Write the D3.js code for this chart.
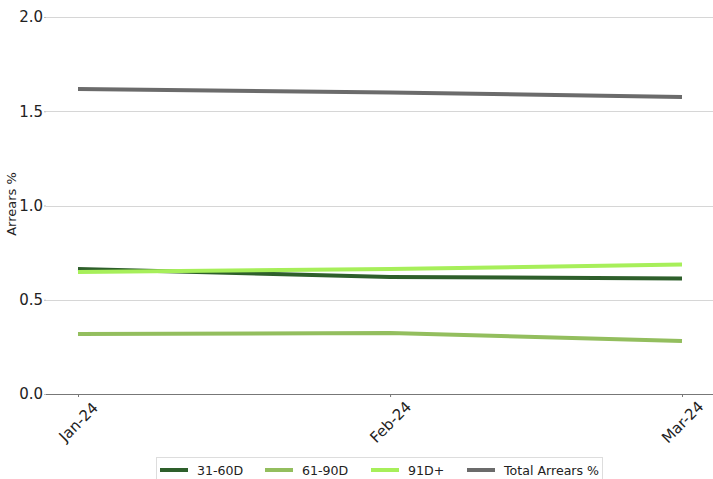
<!DOCTYPE html>
<html><head><meta charset="utf-8">
<script src="https://cdn.jsdelivr.net/npm/d3@7"></script>
<style>body{margin:0;background:#fff;}svg{display:block;font-family:"DejaVu Sans",sans-serif;}</style>
</head><body><svg id="c" width="713" height="479"></svg>
<script>
const categories = ["Jan-24","Feb-24","Mar-24"];
const dates = ["2024-01-01","2024-02-01","2024-03-01"];
const s3160 = [0.663, 0.621, 0.613];
const s6190 = [0.318, 0.324, 0.281];
const s91 = [0.647, 0.663, 0.687];
const sTotal = [1.618, 1.600, 1.576];
const yTicks = [0.0, 0.5, 1.0, 1.5, 2.0];
const seriesNames = ["31-60D","61-90D","91D+","Total Arrears %"];
const colors = ["#2e5f2b","#93be5e","#a7ef5a","#6b6b6b"];
const series = [s3160, s6190, s91, sTotal];

(function(){
const FONT = '"DejaVu Sans",sans-serif';
const svg = d3.select("#c");
const pL = 46, pR = 713, pT = 17, pB = 394;
const dts = dates.map(d => new Date(d + "T00:00:00Z"));
const x = d3.scaleUtc().domain(d3.extent(dts)).range([78, 682]);
const y = d3.scaleLinear().domain([0, 2]).range([pB, pT]);

// grid
svg.append("g").selectAll("line").data(yTicks.filter(d=>d>0)).join("line")
  .attr("x1", pL).attr("x2", pR).attr("y1", d=>Math.round(y(d))+0.5).attr("y2", d=>Math.round(y(d))+0.5)
  .attr("stroke", "#d6d6d6").attr("stroke-width", 1);

// y axis
const ya = svg.append("g").attr("transform", `translate(${pL},0)`)
  .call(d3.axisLeft(y).tickValues(yTicks).tickFormat(d3.format(".1f")).tickSize(2).tickPadding(1));
ya.select(".domain").remove();
ya.selectAll(".tick line").attr("stroke", "#bbb");
ya.selectAll("text").attr("font-size", 15).attr("fill", "#222").attr("font-family", FONT);

// x axis
const xa = svg.append("g").attr("transform", `translate(0,${pB})`)
  .call(d3.axisBottom(x).tickValues(dts).tickFormat((d,i)=>categories[i]).tickSize(3).tickPadding(4));
xa.select(".domain").attr("d", `M${pL},0.5H${pR}`).attr("stroke", "#777").attr("stroke-width", 1.2);
xa.selectAll(".tick line").attr("stroke", "#777");
xa.selectAll("text").attr("font-size", 15).attr("fill", "#222").attr("font-family", FONT)
  .attr("text-anchor", "middle").attr("y", 0).attr("dy", "0.35em")
  .attr("transform", "translate(0,28) rotate(-45)");

// y label
svg.append("text").attr("transform", `translate(16,204) rotate(-90)`)
  .attr("text-anchor", "middle").attr("font-size", 13).attr("fill", "#222")
  .attr("font-family", FONT).text("Arrears %");

// lines
const line = d3.line().x((d,i)=>x(dts[i])).y(d=>y(d));
svg.append("g").selectAll("path").data(series).join("path")
  .attr("d", d=>line(d)).attr("fill", "none")
  .attr("stroke", (d,i)=>colors[i]).attr("stroke-width", 4);

// legend
const lg = svg.append("g");
lg.append("rect").attr("x", 156.5).attr("y", 457.5).attr("width", 446).attr("height", 30)
  .attr("fill", "#fff").attr("stroke", "#ddd");
const lx = [160, 265, 371, 467];
seriesNames.forEach((n,i)=>{
  lg.append("line").attr("x1", lx[i]).attr("x2", lx[i]+28).attr("y1", 470).attr("y2", 470)
    .attr("stroke", colors[i]).attr("stroke-width", 4);
  lg.append("text").attr("x", lx[i]+37).attr("y", 475).attr("font-size", 12.6).attr("fill", "#222")
    .attr("font-family", FONT).text(n);
});
})();
</script></body></html>
